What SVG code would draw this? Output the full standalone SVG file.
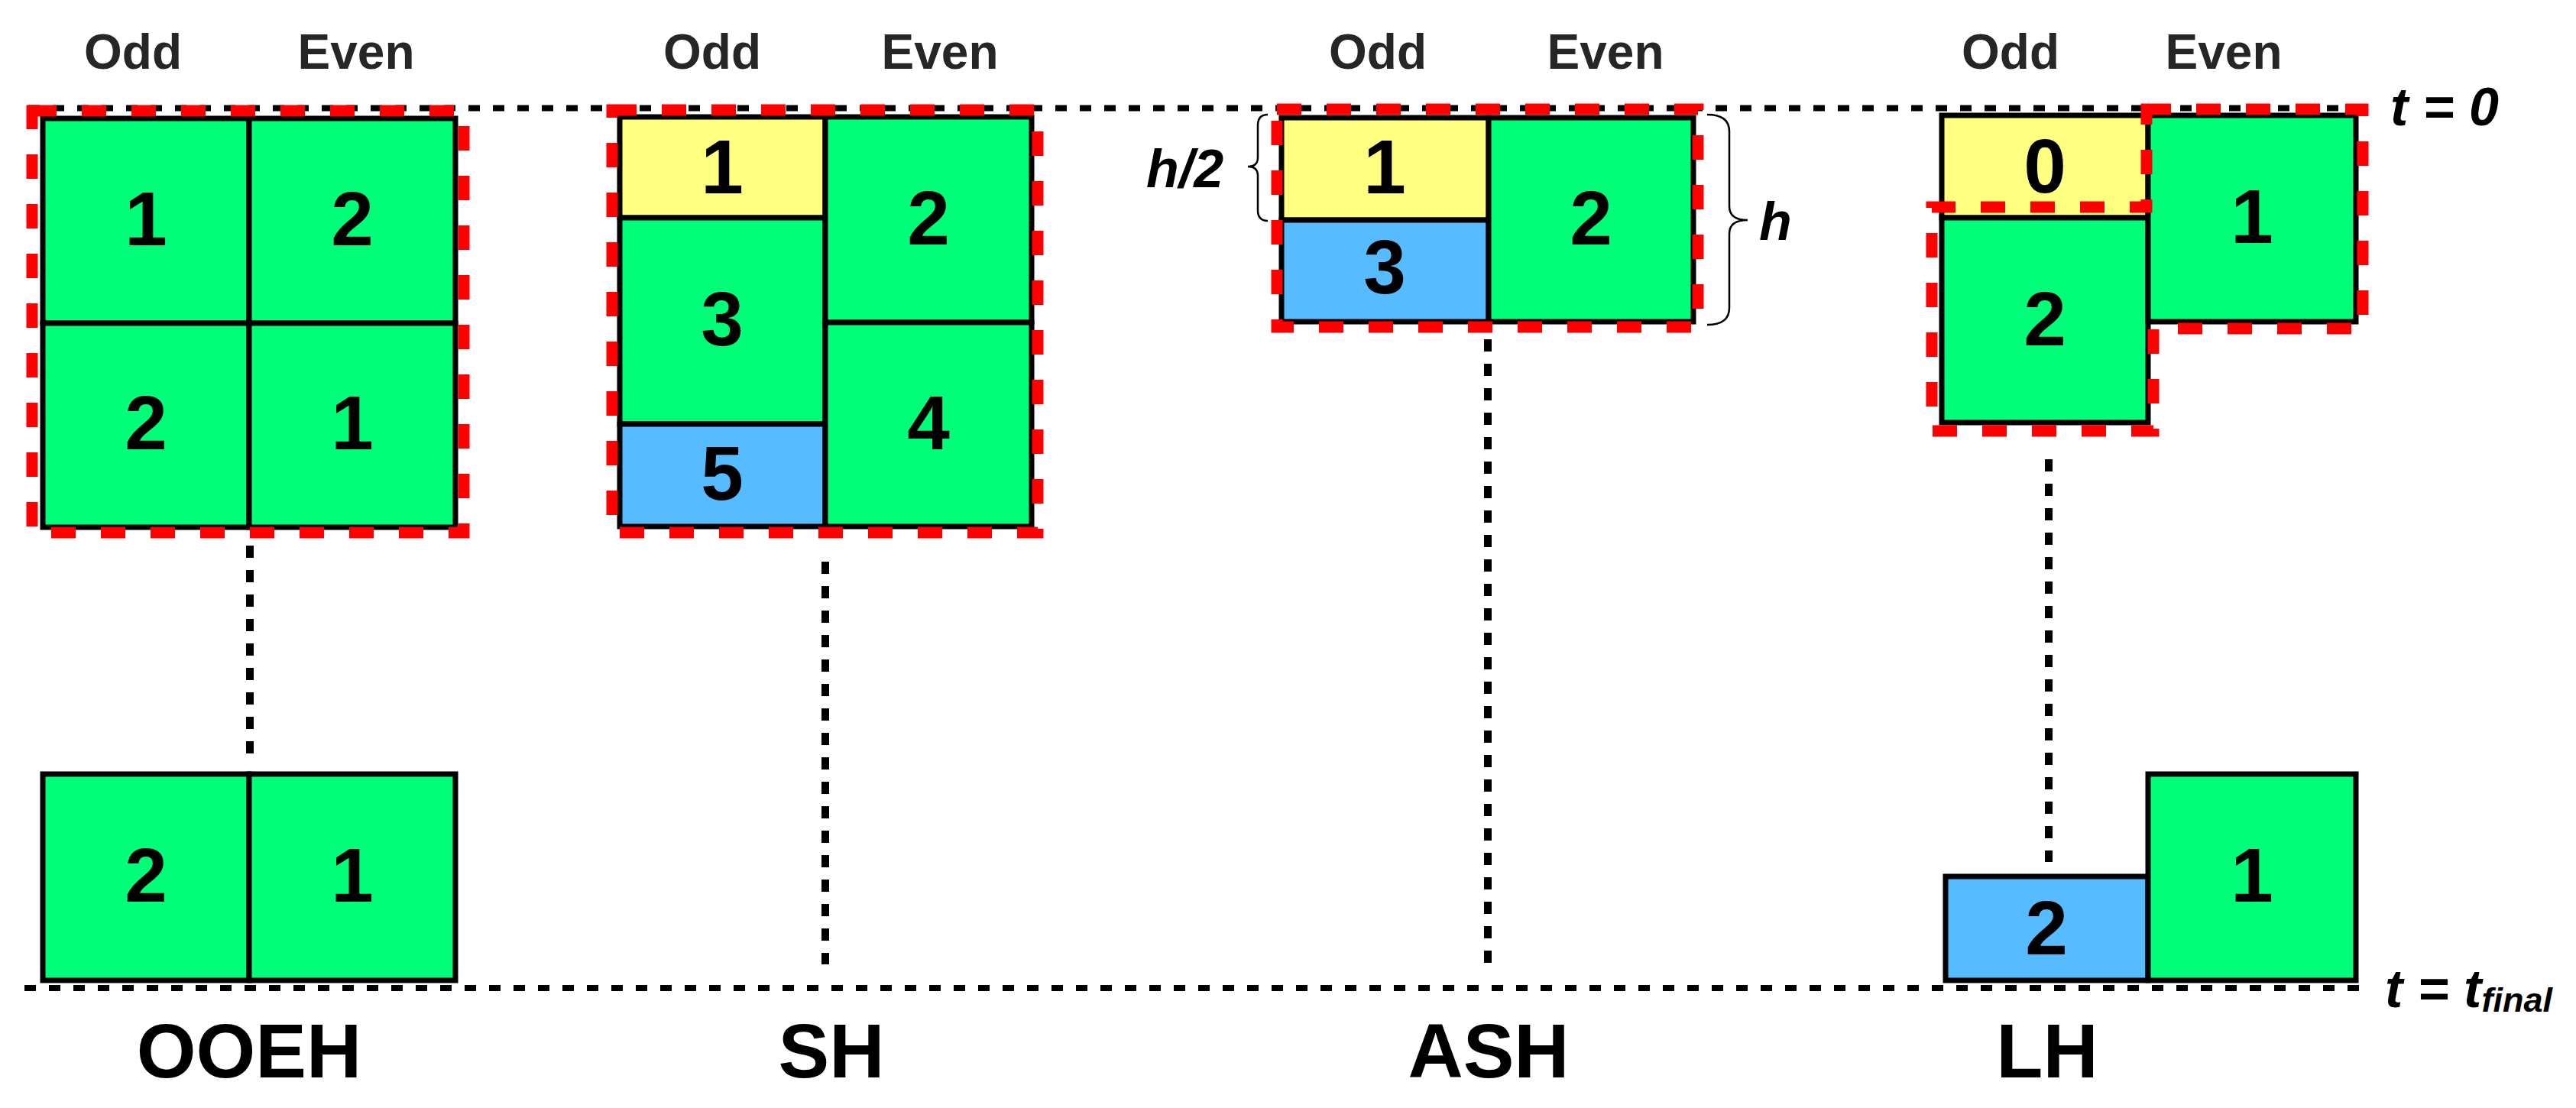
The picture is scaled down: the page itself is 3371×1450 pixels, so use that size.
<svg xmlns="http://www.w3.org/2000/svg" width="3371" height="1450" viewBox="0 0 3371 1450">
<style>
.bg{fill:#ffffff}
.cell{stroke:#000;stroke-width:7}
.g{fill:#00FF78}
.y{fill:#FFFF80}
.b{fill:#57BBFF}
.num{font-family:"Liberation Sans",Arial,sans-serif;font-weight:bold;font-size:100px;fill:#000;text-anchor:middle}
.hdr{font-family:"Liberation Sans",Arial,sans-serif;font-weight:bold;font-size:64px;fill:#262626;text-anchor:middle}
.lbl{font-family:"Liberation Sans",Arial,sans-serif;font-weight:bold;font-size:100px;fill:#000;text-anchor:middle}
.it{font-family:"Liberation Sans",Arial,sans-serif;font-weight:bold;font-style:italic;font-size:70px;fill:#000}
.red{fill:none;stroke:#FF0000;stroke-width:15;stroke-dasharray:32 33}
.tline{fill:none;stroke:#000;stroke-width:8;stroke-dasharray:15 17}
.vline{fill:none;stroke:#000;stroke-width:10;stroke-dasharray:16 16}
.brace{fill:none;stroke:#000;stroke-width:2.5}
</style>
<rect class="bg" x="0" y="0" width="3371" height="1450"/>

<g id="timelines">
<line class="tline" x1="37" y1="141.5" x2="3095" y2="141.5"/>
<line class="tline" x1="32" y1="1293" x2="3091" y2="1293"/>
<text class="it" x="3128" y="164">t = 0</text>
<text class="it" x="3121" y="1318">t = t<tspan font-size="45" dy="6">final</tspan></text>
</g>

<g id="connectors">
<line class="vline" x1="327" y1="714" x2="327" y2="989"/>
<line class="vline" x1="1080" y1="735" x2="1080" y2="1262"/>
<line class="vline" x1="1947" y1="444" x2="1947" y2="1262"/>
<line class="vline" x1="2681" y1="601" x2="2681" y2="1128"/>
</g>

<g id="ooeh-top">
<text class="hdr" x="174" y="90">Odd</text>
<text class="hdr" x="466" y="90">Even</text>
<rect class="cell g" x="56" y="155" width="270" height="268"/>
<rect class="cell g" x="326" y="155" width="270" height="268"/>
<rect class="cell g" x="56" y="423" width="270" height="267"/>
<rect class="cell g" x="326" y="423" width="270" height="267"/>
<text class="num" x="191" y="321">1</text>
<text class="num" x="461" y="321">2</text>
<text class="num" x="191" y="588">2</text>
<text class="num" x="461" y="588">1</text>
<rect class="red" x="42" y="145" width="565" height="552"/>
</g>

<g id="ooeh-bottom">
<rect class="cell g" x="56" y="1013" width="270" height="270"/>
<rect class="cell g" x="326" y="1013" width="270" height="270"/>
<text class="num" x="191" y="1180">2</text>
<text class="num" x="461" y="1180">1</text>
<text class="lbl" x="326" y="1410">OOEH</text>
</g>

<g id="sh">
<text class="hdr" x="932" y="90">Odd</text>
<text class="hdr" x="1230" y="90">Even</text>
<rect class="cell y" x="811" y="153" width="269" height="132"/>
<rect class="cell g" x="811" y="285" width="269" height="270"/>
<rect class="cell b" x="811" y="555" width="269" height="134"/>
<rect class="cell g" x="1080" y="153" width="270" height="269"/>
<rect class="cell g" x="1080" y="422" width="270" height="267"/>
<text class="num" x="945" y="253">1</text>
<text class="num" x="945" y="452">3</text>
<text class="num" x="945" y="654">5</text>
<text class="num" x="1215" y="320">2</text>
<text class="num" x="1215" y="588">4</text>
<rect class="red" x="801" y="144" width="557" height="553"/>
<text class="lbl" x="1088" y="1410">SH</text>
</g>

<g id="ash">
<text class="hdr" x="1803" y="90">Odd</text>
<text class="hdr" x="2101" y="90">Even</text>
<rect class="cell y" x="1677" y="154" width="271" height="134"/>
<rect class="cell b" x="1677" y="288" width="271" height="133"/>
<rect class="cell g" x="1948" y="154" width="268" height="267"/>
<text class="num" x="1812" y="253">1</text>
<text class="num" x="1812" y="384">3</text>
<text class="num" x="2082" y="320">2</text>
<rect class="red" x="1671" y="143" width="551" height="285"/>
<path class="brace" d="M1659,150 Q1646,150 1646,164 L1646,206 Q1646,218 1633,218 Q1646,218 1646,230 L1646,275 Q1646,289 1659,289"/>
<text class="it" x="1500" y="245">h/2</text>
<path class="brace" d="M2234,150 Q2263,150 2263,172 L2263,270 Q2263,288 2287,288 Q2263,288 2263,306 L2263,403 Q2263,425 2234,425"/>
<text class="it" x="2302" y="314">h</text>
<text class="lbl" x="1948" y="1410">ASH</text>
</g>

<g id="lh-top">
<text class="hdr" x="2631" y="90">Odd</text>
<text class="hdr" x="2910" y="90">Even</text>
<rect class="cell y" x="2541" y="151" width="270" height="134"/>
<rect class="cell g" x="2541" y="285" width="270" height="268"/>
<rect class="cell g" x="2811" y="151" width="272" height="270"/>
<text class="num" x="2676" y="252">0</text>
<text class="num" x="2676" y="452">2</text>
<text class="num" x="2947" y="318">1</text>
<path class="red" d="M2809,143 H3092 V430 H2818 V564 H2528 V271 H2809 Z"/>
</g>

<g id="lh-bottom">
<rect class="cell b" x="2546" y="1147" width="265" height="136"/>
<rect class="cell g" x="2811" y="1013" width="272" height="270"/>
<text class="num" x="2678" y="1249">2</text>
<text class="num" x="2947" y="1180">1</text>
<text class="lbl" x="2679" y="1410">LH</text>
</g>
</svg>
